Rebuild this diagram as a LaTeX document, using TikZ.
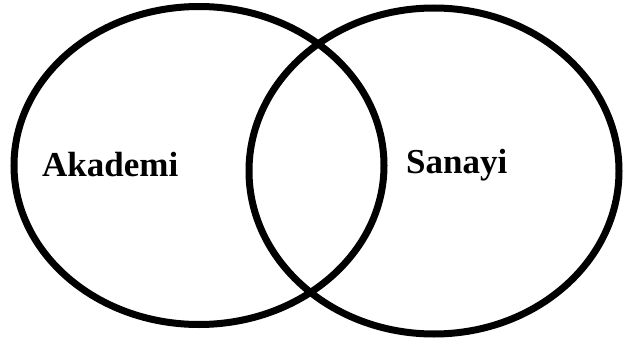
\documentclass[tikz,border=0pt]{standalone}
\usepackage{fontspec}
\setmainfont{Liberation Serif}
\begin{document}
\begin{tikzpicture}[x=1pt,y=-1pt,
  setring/.style={draw=black,line width=7pt},
  setlabel/.style={font=\fontsize{35}{40}\selectfont\bfseries,inner sep=0pt,anchor=base west}]
\useasboundingbox (0,0) rectangle (624,345);
\draw[setring] (199,165.5) ellipse [x radius=185, y radius=159];
\draw[setring] (434,171) ellipse [x radius=185, y radius=163];
\node[setlabel] (akademi) at (42,176) {Akademi};
\node[setlabel] (sanayi) at (406,173) {Sanayi};
\end{tikzpicture}
\end{document}
